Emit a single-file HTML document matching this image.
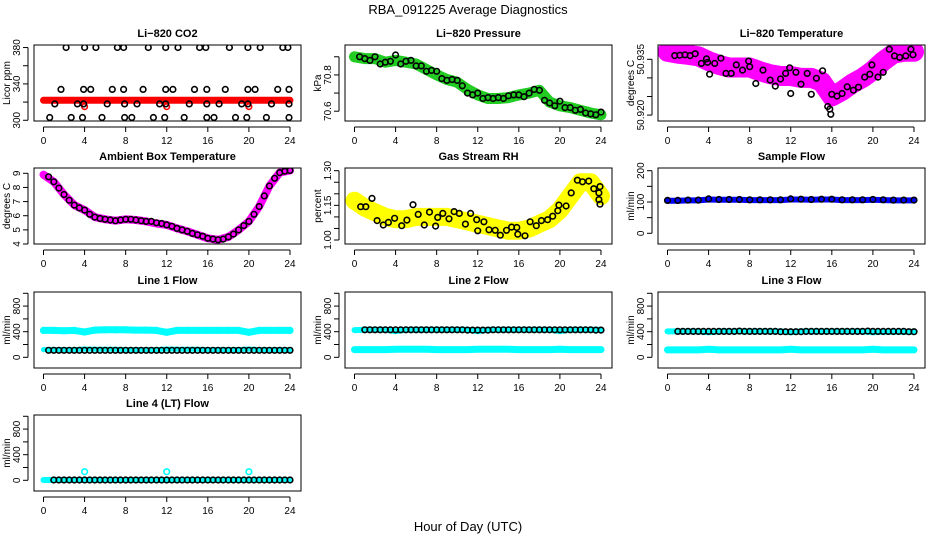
<!DOCTYPE html>
<html><head><meta charset="utf-8"><style>
html,body{margin:0;padding:0;background:#fff;}
svg{display:block;font-family:"Liberation Sans",Arial,sans-serif;}
</style></head><body>
<svg id="chart" width="936" height="540" viewBox="0 0 936 540" xmlns="http://www.w3.org/2000/svg">
<rect width="936" height="540" fill="#fff"/>
<text x="468" y="14" text-anchor="middle" font-size="13">RBA_091225  Average Diagnostics</text>
<text x="468" y="531" text-anchor="middle" font-size="13">Hour of Day (UTC)</text>
</svg>
<script>
// ---- data ----
const hoursFull = [0,1,2,3,4,5,6,7,8,9,10,11,12,13,14,15,16,17,18,19,20,21,22,23,24];
const hoursHalf = [0.5,1,1.5,2,2.5,3,3.5,4,4.5,5,5.5,6,6.5,7,7.5,8,8.5,9,9.5,10,10.5,11,11.5,12,12.5,13,13.5,14,14.5,15,15.5,16,16.5,17,17.5,18,18.5,19,19.5,20,20.5,21,21.5,22,22.5,23,23.5,24];
const xTicks = [0,4,8,12,16,20,24];

// CO2
const co2BlackHours = [2.2,4,5.1,7.2,7.8,10.2,11.9,13.1,15.2,15.8,18.1,19.9,21.1,23.3,23.8, 1.7,3.9,4.6,6.7,7.8,9.7,11.9,12.6,14.7,15.9,17.7,19.9,20.6,22.8,23.9, 1.1,3.3,3.9,6.2,7.9,9.1,11.3,11.9,14.2,15.9,17.1,19.3,19.9,22.2,23.9, 0.6,2.7,3.8,5.7,7.9,8.6,10.7,11.8,13.7,15.9,16.6,18.7,19.8,21.7,23.9];
const co2BlackVals = [380,380,380,380,380,380,380,380,380,380,380,380,380,380,380, 334,334,334,334,334,334,334,334,334,334,334,334,334,334,334, 318,318,318,318,318,318,318,318,318,318,318,318,318,318,318, 303,303,303,303,303,303,303,303,303,303,303,303,303,303,303];
const co2RedVals = [322,322,322,322,322,322,322,322,322,322,322,322,322,322,322,322,322,322,322,322,322,322,322,322,322];
const co2RedDipHours = [4,12,20];
const co2RedDipVals = [315,315,315];

// Pressure
const presBlack = [70.90,70.89,70.88,70.90,70.86,70.87,70.875,70.91,70.86,70.875,70.88,70.85,70.85,70.82,70.825,70.82,70.78,70.77,70.775,70.77,70.74,70.70,70.69,70.70,70.67,70.675,70.67,70.675,70.67,70.685,70.69,70.69,70.68,70.70,70.72,70.715,70.66,70.645,70.63,70.655,70.62,70.62,70.605,70.61,70.59,70.585,70.58,70.595];
const presGreen = [70.90,70.89,70.89,70.87,70.88,70.87,70.86,70.83,70.80,70.775,70.76,70.72,70.69,70.67,70.67,70.675,70.69,70.70,70.715,70.65,70.63,70.62,70.605,70.59,70.58];

// Li-820 temperature
const tempBlackHours = [0.7,1.2,1.7,2.2,2.7,3.3,3.8,3.9,4.1,4.6,5.2,5.7,6.2,6.7,7.3,7.9,8.0,8.6,9.3,10.0,10.5,11.0,11.5,11.9,12.0,12.5,13.0,13.6,14.0,14.5,15.1,15.6,15.8,15.9,16.0,16.5,17.0,17.5,18.1,18.6,19.2,19.7,19.9,20.5,21.0,21.6,22.1,22.6,23.2,23.7,23.9];
const tempBlackVals = [50.9360,50.9361,50.9362,50.9360,50.9365,50.9339,50.9351,50.9342,50.9310,50.9339,50.9353,50.9312,50.9312,50.9335,50.9321,50.9345,50.9330,50.9285,50.9321,50.9294,50.9278,50.9297,50.9312,50.9327,50.9258,50.9315,50.9283,50.9312,50.9256,50.9299,50.9319,50.9223,50.9216,50.9202,50.9256,50.9251,50.9258,50.9276,50.9267,50.9275,50.9302,50.9310,50.9335,50.9302,50.9315,50.9377,50.9359,50.9355,50.9359,50.9377,50.9362];
const tempMagenta = [50.9370,50.9365,50.9362,50.9358,50.9345,50.9335,50.9328,50.9328,50.9328,50.9318,50.9310,50.9305,50.9305,50.9300,50.9300,50.9290,50.9250,50.9265,50.9285,50.9300,50.9320,50.9345,50.9365,50.9370,50.9370];

// Ambient box temperature
const ambBlack = [8.75,8.4,7.95,7.5,7.1,6.75,6.55,6.4,6.1,5.9,5.8,5.75,5.7,5.65,5.7,5.75,5.75,5.7,5.65,5.6,5.6,5.5,5.45,5.35,5.25,5.1,5.0,4.9,4.75,4.65,4.55,4.4,4.35,4.3,4.35,4.5,4.7,5.0,5.3,5.6,6.1,6.65,7.4,8.1,8.65,9.05,9.15,9.2];
const ambMagenta = [8.9,8.4,7.5,6.75,6.4,5.9,5.75,5.65,5.75,5.7,5.6,5.45,5.35,5.1,4.9,4.65,4.4,4.3,4.5,5.0,5.6,6.65,8.1,9.05,9.2];

// Gas stream RH
const rhBlackHours = [0.6,1.1,1.7,2.2,2.8,3.3,3.9,4.6,5.1,5.7,6.2,6.8,7.3,7.9,8.1,8.6,9.2,9.7,10.2,10.8,11.3,11.9,12.0,12.6,13.1,13.7,14.2,14.8,15.3,15.8,15.9,16.6,17.1,17.7,18.2,18.8,19.3,19.8,19.9,20.6,21.1,21.7,22.2,22.8,23.3,23.8,23.9,23.8,23.9];
const rhBlackVals = [1.144,1.144,1.180,1.084,1.065,1.076,1.094,1.062,1.086,1.153,1.111,1.065,1.121,1.060,1.098,1.115,1.092,1.123,1.115,1.069,1.115,1.088,1.040,1.079,1.044,1.042,1.021,1.042,1.056,1.054,1.025,1.018,1.079,1.062,1.084,1.088,1.103,1.127,1.151,1.147,1.204,1.259,1.252,1.255,1.222,1.204,1.231,1.175,1.155];
const rhYellow = [1.17,1.14,1.12,1.10,1.09,1.09,1.10,1.10,1.10,1.10,1.09,1.08,1.07,1.06,1.05,1.04,1.04,1.05,1.07,1.09,1.13,1.19,1.25,1.25,1.19];

// Sample flow
const sampleBlack = [105,105,106,106,110,108,108,108,107,107,107,107,110,109,108,109,109,107,107,107,108,107,106,106,106];
const sampleBlue = [104,104,105,105,108,107,107,107,106,106,106,106,108,108,107,108,108,106,106,106,107,106,105,105,105];

// Line flows
const line1CyanHigh = [420,420,415,420,395,425,430,430,430,425,425,420,390,420,420,420,420,420,420,420,390,420,420,420,420];
const line1CyanLow = [120,120,120,120,130,125,125,125,120,120,120,120,130,125,125,125,120,120,120,120,130,120,120,120,120];
const line1Black = [110,110,110,110,110,110,110,110,110,110,110,110,110,110,110,110,110,110,110,110,110,110,110,110,110,110,110,110,110,110,110,110,110,110,110,110,110,110,110,110,110,110,110,110,110,110,110,110];
const line2CyanHigh = [425,430,430,430,410,430,430,430,430,430,430,430,410,430,430,430,430,430,430,430,410,430,430,430,430];
const line2CyanLow = [120,120,120,120,125,125,125,125,120,120,120,120,125,125,125,125,120,120,120,120,125,120,120,120,120];
const line2Black = [430,430,430,430,430,430,430,430,430,430,430,430,430,430,430,430,430,430,430,430,425,425,425,425,425];
const line3CyanHigh = [405,405,405,405,390,405,405,405,405,405,405,405,390,405,405,405,405,405,405,405,390,400,400,400,400];
const line3CyanLow = [115,115,115,115,125,115,115,115,115,115,115,115,125,115,115,115,115,115,115,115,125,115,115,115,115];
const line3Black = [405,405,405,405,405,405,405,405,405,405,405,405,410,405,405,405,405,405,405,405,400,400,400,400,400];
const line4Cyan = [5,5,5,5,5,5,5,5,5,5,5,5,5,5,5,5,5,5,5,5,5,5,5,5,5];
const line4Black = [5,5,5,5,5,5,5,5,5,5,5,5,5,5,5,5,5,5,5,5,5,5,5,5,5];
const line4OutHours = [4,12,20];
const line4OutVals = [135,135,135];

// ---- drawing ----
const NS = 'http://www.w3.org/2000/svg';
const svg = document.getElementById('chart');
function mk(tag, attrs, parent){
  const e = document.createElementNS(NS, tag);
  for (const k in attrs) e.setAttribute(k, attrs[k]);
  (parent||svg).appendChild(e);
  return e;
}
const colLeft = [34, 345, 658];
const rowTop = [45, 168, 292, 415];
const W = 267, Hh = 76;

function makePanel(cfg){
  const left = colLeft[cfg.col], top = rowTop[cfg.row];
  const g = mk('g', {});
  
  
  const xs = h => left + 9.5 + h * 10.27;
  const ys = v => top + Hh - (v - cfg.ymin) / (cfg.ymax - cfg.ymin) * Hh;
  const clip = 'clip-' + cfg.name;
  const cp = mk('clipPath', {id: clip}, g);
  mk('rect', {x:left, y:top, width:W, height:Hh}, cp);
  const data = mk('g', {'clip-path':'url(#'+clip+')'}, g);
  
  
  (cfg.bands||[]).forEach(b => {
    const pts = b.h.map((h,i) => xs(h).toFixed(1)+','+ys(b.v[i]).toFixed(1)).join(' ');
    const pl = mk('polyline', {points:pts, fill:'none', stroke:b.c, 'stroke-width':b.w, 'stroke-linejoin':'round', 'stroke-linecap':'round'}, data);
    
    
  });
  (cfg.pts||[]).forEach(s => {
    s.h.forEach((h,i) => {
      const c = mk('circle', {cx:xs(h).toFixed(1), cy:ys(s.v[i]).toFixed(1), r:2.8, fill:'none', stroke:s.c, 'stroke-width':1.6}, data);
      
      
    });
  });
  const box = mk('rect', {x:left, y:top, width:W, height:Hh, fill:'none', stroke:'#000', 'stroke-width':1}, g);
  
  
  const t = mk('text', {x:left+W/2, y:top-8, 'text-anchor':'middle', 'font-size':11, 'font-weight':'bold'}, g);
  t.textContent = cfg.title;
  
  
  const xb = top + Hh + 6;
  mk('line', {x1:xs(0), x2:xs(24), y1:xb, y2:xb, stroke:'#000'}, g);
  xTicks.forEach(v => {
    mk('line', {x1:xs(v), x2:xs(v), y1:xb, y2:xb+5, stroke:'#000'}, g);
    const l = mk('text', {x:xs(v), y:xb+17, 'text-anchor':'middle', 'font-size':10}, g);
    l.textContent = v;
    
    
  });
  const ya = left - 6;
  mk('line', {x1:ya, x2:ya, y1:ys(cfg.ticks[0]), y2:ys(cfg.ticks[cfg.ticks.length-1]), stroke:'#000'}, g);
  cfg.ticks.forEach((v,i) => {
    mk('line', {x1:ya-5, x2:ya, y1:ys(v), y2:ys(v), stroke:'#000'}, g);
    if (cfg.labels[i] !== '') {
      const yy = ys(v);
      const l = mk('text', {x:ya-8, y:yy, 'text-anchor':'middle', 'font-size':10, transform:'rotate(-90 '+(ya-8)+' '+yy+')'}, g);
      l.textContent = cfg.labels[i];
      
      
    }
  });
  const lx = left - 24, ly = top + Hh/2;
  const yl = mk('text', {x:lx, y:ly, 'text-anchor':'middle', 'font-size':10, transform:'rotate(-90 '+lx+' '+ly+')'}, g);
  yl.textContent = cfg.ylab;
  
  
}

const flowTicks = [0,200,400,600,800,1000];
const flowLabels = ['0','','400','','800',''];

makePanel({name:'co2-panel', col:0,row:0, title:'Li\u2212820 CO2', ylab:'Licor ppm', ymin:299.2, ymax:382.8,
  ticks:[300,320,340,360,380], labels:['300','','340','','380'],
  bands:[{n:'co2-red-band', h:hoursFull, v:co2RedVals, c:'#ff0000', w:7}],
  pts:[{n:'co2-red-dip', h:co2RedDipHours, v:co2RedDipVals, c:'#ff0000'},{n:'co2-black-point', h:co2BlackHours, v:co2BlackVals, c:'#000'}]});
makePanel({name:'pressure-panel', col:1,row:0, title:'Li\u2212820 Pressure', ylab:'kPa', ymin:70.546, ymax:70.965,
  ticks:[70.6,70.7,70.8,70.9], labels:['70.6','','70.8',''],
  bands:[{n:'pressure-green-band', h:hoursFull, v:presGreen, c:'#22cc22', w:11}],
  pts:[{n:'pressure-black-point', h:hoursHalf, v:presBlack, c:'#000'}]});
makePanel({name:'li820-temp-panel', col:2,row:0, title:'Li\u2212820 Temperature', ylab:'degrees C', ymin:50.91841, ymax:50.93884,
  ticks:[50.920,50.925,50.930,50.935], labels:['50.920','','','50.935'],
  bands:[{n:'temp-magenta-band', h:hoursFull, v:tempMagenta, c:'#ff00ff', w:20}],
  pts:[{n:'temp-black-point', h:tempBlackHours, v:tempBlackVals, c:'#000'}]});
makePanel({name:'ambient-panel', col:0,row:1, title:'Ambient Box Temperature', ylab:'degrees C', ymin:4.0, ymax:9.375,
  ticks:[4,5,6,7,8,9], labels:['4','5','6','7','8','9'],
  bands:[{n:'ambient-magenta-band', h:hoursFull, v:ambMagenta, c:'#ff00ff', w:8}],
  pts:[{n:'ambient-black-point', h:hoursHalf, v:ambBlack, c:'#000'}]});
makePanel({name:'rh-panel', col:1,row:1, title:'Gas Stream RH', ylab:'percent', ymin:0.9827, ymax:1.3117,
  ticks:[1.00,1.05,1.10,1.15,1.20,1.25,1.30], labels:['1.00','','','1.15','','','1.30'],
  bands:[{n:'rh-yellow-band', h:hoursFull, v:rhYellow, c:'#ffff00', w:18}],
  pts:[{n:'rh-black-point', h:rhBlackHours, v:rhBlackVals, c:'#000'}]});
makePanel({name:'sample-flow-panel', col:2,row:1, title:'Sample Flow', ylab:'ml/min', ymin:-34.2, ymax:208.6,
  ticks:[0,50,100,150,200], labels:['0','','100','','200'],
  bands:[{n:'sample-blue-band', h:hoursFull, v:sampleBlue, c:'#0000ff', w:6}],
  pts:[{n:'sample-black-point', h:hoursFull, v:sampleBlack, c:'#000'}]});
makePanel({name:'line1-panel', col:0,row:2, title:'Line 1 Flow', ylab:'ml/min', ymin:-167, ymax:1020,
  ticks:flowTicks, labels:flowLabels,
  bands:[{n:'line1-cyan-high', h:hoursFull, v:line1CyanHigh, c:'#00ffff', w:7},{n:'line1-cyan-low', h:hoursFull, v:line1CyanLow, c:'#00ffff', w:5}],
  pts:[{n:'line1-black-point', h:hoursHalf, v:line1Black, c:'#000'},{n:'line1-cyan-point', h:hoursFull, v:line1CyanHigh, c:'#00ffff'}]});
makePanel({name:'line2-panel', col:1,row:2, title:'Line 2 Flow', ylab:'ml/min', ymin:-167, ymax:1020,
  ticks:flowTicks, labels:flowLabels,
  bands:[{n:'line2-cyan-high', h:hoursFull, v:line2CyanHigh, c:'#00ffff', w:6},{n:'line2-cyan-low', h:hoursFull, v:line2CyanLow, c:'#00ffff', w:7}],
  pts:[{n:'line2-black-point', h:hoursHalf.slice(1), v:line2Black.concat(line2Black).slice(0,47), c:'#000'}]});
makePanel({name:'line3-panel', col:2,row:2, title:'Line 3 Flow', ylab:'ml/min', ymin:-167, ymax:1020,
  ticks:flowTicks, labels:flowLabels,
  bands:[{n:'line3-cyan-high', h:hoursFull, v:line3CyanHigh, c:'#00ffff', w:6},{n:'line3-cyan-low', h:hoursFull, v:line3CyanLow, c:'#00ffff', w:7}],
  pts:[{n:'line3-black-point', h:hoursHalf.slice(1), v:line3Black.concat(line3Black).slice(0,47), c:'#000'}]});
makePanel({name:'line4-panel', col:0,row:3, title:'Line 4 (LT) Flow', ylab:'ml/min', ymin:-167, ymax:1020,
  ticks:flowTicks, labels:flowLabels,
  bands:[{n:'line4-cyan-band', h:hoursFull, v:line4Cyan, c:'#00ffff', w:6}],
  pts:[{n:'line4-black-point', h:hoursHalf.slice(1), v:line4Black.concat(line4Black).slice(0,47), c:'#000'},{n:'line4-cyan-outlier', h:line4OutHours, v:line4OutVals, c:'#00ffff'}]});
</script>
</body></html>
